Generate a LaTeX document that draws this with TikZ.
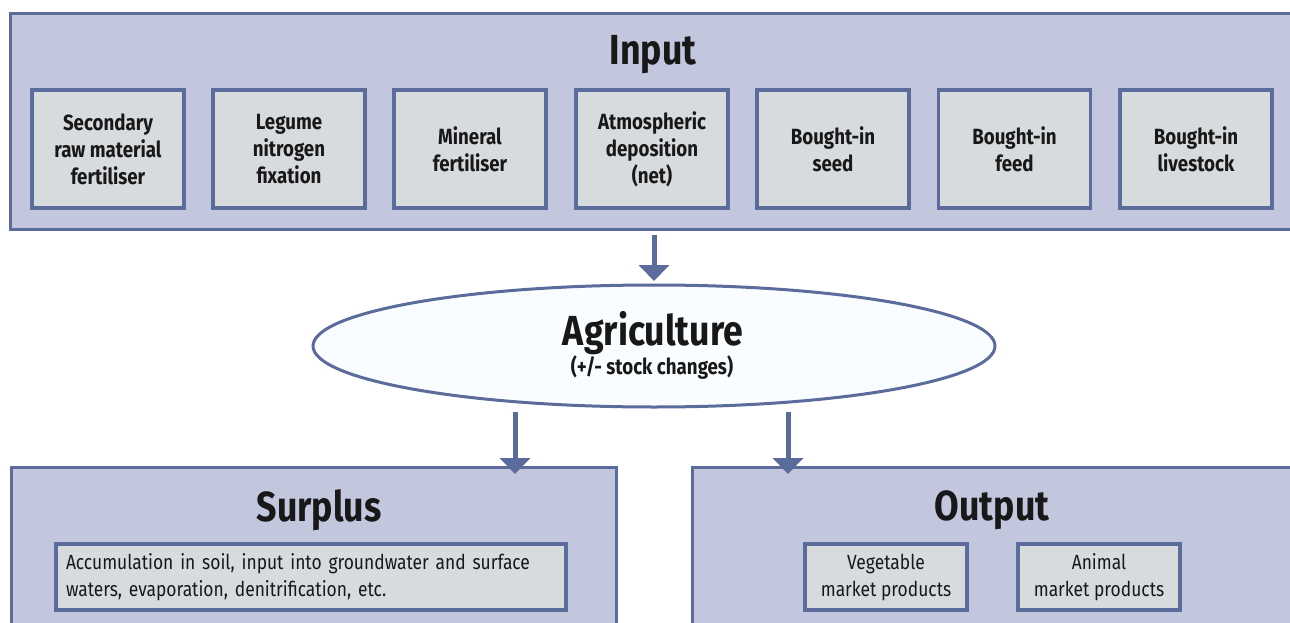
\documentclass[tikz,border=0pt]{standalone}
\usepackage{fontspec}
\setmainfont{Fira Sans}[FakeStretch=0.85]
\usetikzlibrary{arrows.meta,shapes.geometric}
\definecolor{frameblue}{RGB}{91,107,155}
\definecolor{panelblue}{RGB}{195,199,222}
\definecolor{cellgray}{RGB}{216,219,221}
\definecolor{inkblack}{RGB}{24,24,24}
\begin{document}
\begin{tikzpicture}[x=1pt, y=-1pt,
    panel/.style={draw=frameblue, line width=3pt, fill=panelblue, inner sep=0pt},
    cell/.style={draw=frameblue, line width=3.5pt, fill=cellgray, align=center, inner sep=0pt, text=inkblack},
    heading/.style={font=\bfseries\fontsize{42}{46}\selectfont, text=inkblack},
    flow/.style={frameblue, line width=5pt, -{Triangle[width=30pt,length=16pt]}}]
        \useasboundingbox (0,0) rectangle (1290,623);
        \clip (0,0) rectangle (1290,623);
        % input panel
        \node[panel, minimum width=1290pt, minimum height=215pt] (input) at (655,121.5) {};
        \node[heading] (inputtitle) at (653,55) {Input};
        \foreach \x/\txt [count=\i] in {108/{Secondary\\raw material\\fertiliser},
                289/{Legume\\nitrogen\\fixation},
                470/{Mineral\\fertiliser},
                652/{Atmospheric\\deposition\\(net)},
                833/{Bought-in\\seed},
                1014.5/{Bought-in\\feed},
                1196/{Bought-in\\livestock}}
            \node[cell, minimum width=152pt, minimum height=118pt,
                font=\bfseries\fontsize{22}{27}\selectfont] (in\i) at (\x,149) {\txt};
        % agriculture
        \node[ellipse, draw=frameblue, line width=3pt, fill=white!98!cyan, inner sep=0pt,
            minimum width=682pt, minimum height=122pt] (agri) at (654,346) {};
        \node[heading] (agrititle) at (653,333) {Agriculture};
        \node[font=\bfseries\fontsize{22}{24}\selectfont, text=inkblack] (agrinote) at (652,367) {(+/- stock changes)};
        % surplus and output
        \node[panel, minimum width=605pt, minimum height=200pt, anchor=north west] (surplus) at (9.5,466) {};
        \node[heading] (surplustitle) at (319,510) {Surplus};
        \node[cell, minimum width=510pt, minimum height=66pt, align=left, text width=490pt,
            font=\fontsize{20.5}{27}\selectfont] (sink) at (311,577)
            {Accumulation in soil, input into groundwater and surface\\waters, evaporation, denitrification, etc.};
        \node[panel, minimum width=650pt, minimum height=200pt, anchor=north west] (output) at (690.5,466) {};
        \node[heading] (outputtitle) at (992,510) {Output};
        \node[cell, minimum width=162pt, minimum height=66pt, font=\fontsize{20.5}{27}\selectfont] (veg) at (886,577)
            {Vegetable\\market products};
        \node[cell, minimum width=162pt, minimum height=66pt, font=\fontsize{20.5}{27}\selectfont] (animal) at (1099,577)
            {Animal\\market products};
        % arrows
        \draw[flow] (input.south -| agri.north) ++(0,4) -- (agri.north |- 0,281);
        \coordinate (lfrom) at (515,412);
        \coordinate (rfrom) at (788,412);
        \draw[flow] (lfrom) -- ([yshift=-8pt]lfrom |- surplus.north);
        \draw[flow] (rfrom) -- ([yshift=-8pt]rfrom |- output.north);
\end{tikzpicture}
\end{document}
